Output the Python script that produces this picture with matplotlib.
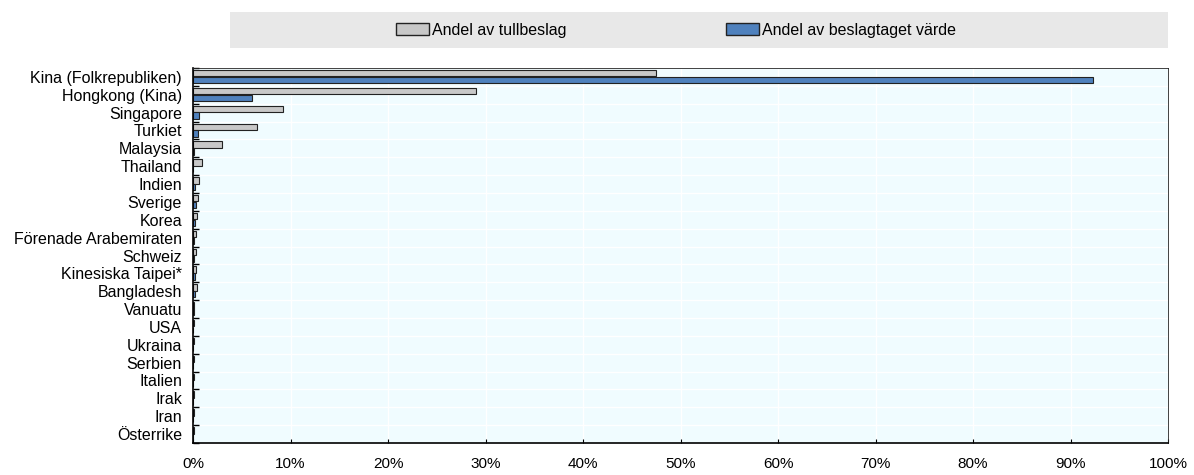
import matplotlib.pyplot as plt
import numpy as np
from matplotlib.patches import Patch, Rectangle

plt.rcParams['font.family'] = ['Liberation Sans', 'DejaVu Sans']

countries = ["Kina (Folkrepubliken)", "Hongkong (Kina)", "Singapore", "Turkiet",
             "Malaysia", "Thailand", "Indien", "Sverige", "Korea",
             "Förenade Arabemiraten", "Schweiz", "Kinesiska Taipei*", "Bangladesh",
             "Vanuatu", "USA", "Ukraina", "Serbien", "Italien", "Irak", "Iran",
             "Österrike"]
share_seizures = [47.5, 29.0, 9.2, 6.6, 3.0, 0.9, 0.6, 0.5, 0.4, 0.3, 0.3, 0.3,
                  0.4, 0.1, 0.1, 0.1, 0.1, 0.1, 0.1, 0.1, 0.1]
share_value = [92.3, 6.0, 0.6, 0.5, 0.1, 0.05, 0.2, 0.3, 0.2, 0.1, 0.1, 0.2,
               0.2, 0.1, 0.05, 0.05, 0.05, 0.05, 0.05, 0.05, 0.05]

gray = "#C8C8C8"
blue = "#4F81BD"

fig = plt.figure(figsize=(11.94, 4.75), dpi=100)
ax = fig.add_axes([193 / 1194, 32 / 475, 975 / 1194, 375 / 475])

y = np.arange(len(countries))
h = 0.36
ax.barh(y - 0.21, share_seizures, height=h, color=gray, edgecolor="#222222", linewidth=0.8)
ax.barh(y + 0.17, share_value, height=h, color=blue, edgecolor="#222222", linewidth=0.8)

ax.set_ylim(len(countries) - 0.5, -0.5)
ax.set_xlim(0, 100)
ax.set_facecolor("#F0FCFF")

ax.set_xticks(np.arange(0, 101, 10))
ax.set_xticklabels([f"{v}%" for v in range(0, 101, 10)], fontsize=11)
ax.set_yticks(y)
ax.set_yticklabels(countries, fontsize=11.5)
ax.tick_params(axis="y", length=0, pad=8)
ax.tick_params(axis="x", direction="in", length=3, pad=10)

# category separators and vertical grid
ax.set_yticks(np.arange(len(countries) + 1) - 0.5, minor=True)
ax.tick_params(axis="y", which="minor", direction="in", length=4, width=1)
ax.grid(axis="x", color="white", linewidth=1)
ax.grid(axis="y", which="minor", color="white", linewidth=1)
ax.set_axisbelow(True)

for side in ["top", "right"]:
    ax.spines[side].set_color("#222222")
    ax.spines[side].set_linewidth(0.6)
for side in ["left", "bottom"]:
    ax.spines[side].set_linewidth(1.2)

# legend band
fig.patches.append(Rectangle((230 / 1194, 1 - 48 / 475), 938 / 1194, 36 / 475,
                             transform=fig.transFigure, facecolor="#E8E8E8",
                             edgecolor="none", zorder=0))
handles = [Patch(facecolor=gray, edgecolor="#222222", label="Andel av tullbeslag"),
           Patch(facecolor=blue, edgecolor="#222222", label="Andel av beslagtaget värde")]
fig.legend(handles=handles, loc="center", bbox_to_anchor=(0.566, 1 - 30 / 475),
           ncol=2, frameon=False, fontsize=11.5, columnspacing=10,
           handlelength=2.1, handletextpad=0.15)

fig.savefig("out.png", dpi=100)
